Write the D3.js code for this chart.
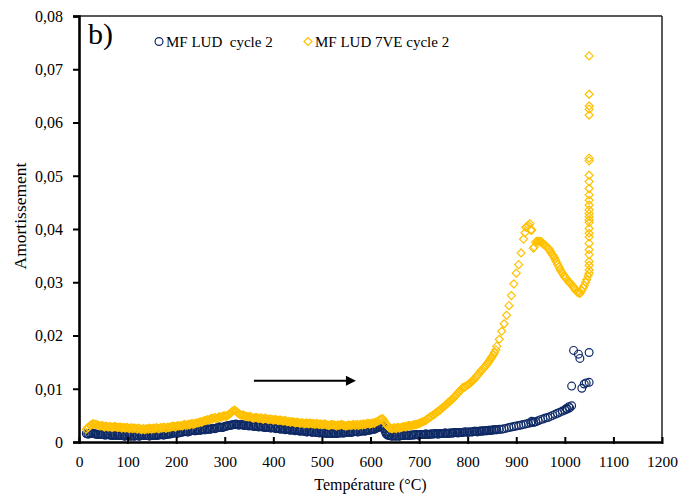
<!DOCTYPE html>
<html><head><meta charset="utf-8">
<script src="https://cdn.jsdelivr.net/npm/d3@7"></script>
<style>
html,body{margin:0;padding:0;background:#fff;}
svg{display:block;}
text{font-family:"Liberation Serif","Times New Roman",serif;fill:#000;}
</style></head>
<body>
<svg id="chart" width="679" height="499"></svg>
<script>
// ---- DATA ----
const tempGrid = [15,20,25,30,35,40,45,50,55,60,65,70,75,80,85,90,95,100,105,110,
115,120,125,130,135,140,145,150,155,160,165,170,175,180,185,190,195,200,205,210,
215,220,225,230,235,240,245,250,255,260,265,270,275,280,285,290,295,300,305,310,
315,320,325,330,335,340,345,350,355,360,365,370,375,380,385,390,395,400,405,410,
415,420,425,430,435,440,445,450,455,460,465,470,475,480,485,490,495,500,505,510,
515,520,525,530,535,540,545,550,555,560,565,570,575,580,585,590,595,600,605,610,
615,620,625,630,635,640,645,650,655,660,665,670,675,680,685,690,695,700,705,710,
715,720,725,730,735,740,745,750,755,760,765,770,775,780,785,790,795,800,805,810,
815,820,825,830,835,840,845,850,855,860,865,870,875,880,885,890,895,900,905,910,
915,920,925,930,935,940,945,950,955,960,965,970,975,980,985,990,995,1000,1005,1010,
1015,1020,1025,1030,1035,1040,1045];
// second, interleaved set of readings (dense part of the runs)
const tempGridB = [18,23,28,33,38,43,48,53,58,63,68,73,78,83,88,93,98,103,108,113,
118,123,128,133,138,143,148,153,158,163,168,173,178,183,188,193,198,203,208,213,
218,223,228,233,238,243,248,253,258,263,268,273,278,283,288,293,298,303,308,313,
318,323,328,333,338,343,348,353,358,363,368,373,378,383,388,393,398,403,408,413,
418,423,428,433,438,443,448,453,458,463,468,473,478,483,488,493,498,503,508,513,
518,523,528,533,538,543,548,553,558,563,568,573,578,583,588,593,598,603,608,613,
618,623,628,633,638,643,648,653,658,663,668,673,678,683,688,693,698,703,708,713,
718,723,728,733,738,743,748,753,758,763,768,773,778,783,788,793,798,803,808,813,
818,823,828,833,838,843,848,853,858];

// MF LUD 7VE cycle 2 (values on tempGrid)
const ve7Values = [0.0024,0.0028,0.0032,0.0034,0.0033,0.0031,0.0030,0.0029,0.0030,0.0028,
0.0029,0.0028,0.0029,0.0027,0.0028,0.0027,0.0026,0.0027,0.0026,0.0025,
0.0026,0.0024,0.0025,0.0024,0.0023,0.0025,0.0026,0.0024,0.0025,0.0027,
0.0025,0.0026,0.0028,0.0026,0.0027,0.0029,0.0030,0.0029,0.0030,0.0031,
0.0032,0.0031,0.0033,0.0034,0.0033,0.0035,0.0036,0.0038,0.0039,0.0040,
0.0042,0.0043,0.0044,0.0046,0.0045,0.0047,0.0048,0.0049,0.0050,0.0053,
0.0057,0.0060,0.0056,0.0052,0.0050,0.0049,0.0048,0.0047,0.0046,0.0045,
0.0046,0.0044,0.0045,0.0043,0.0044,0.0042,0.0043,0.0041,0.0042,0.0040,
0.0041,0.0039,0.0040,0.0038,0.0037,0.0038,0.0036,0.0037,0.0035,0.0036,
0.0034,0.0035,0.0036,0.0034,0.0033,0.0035,0.0033,0.0032,0.0034,0.0032,
0.0031,0.0033,0.0032,0.0030,0.0031,0.0033,0.0031,0.0030,0.0032,0.0031,
0.0033,0.0032,0.0031,0.0033,0.0034,0.0033,0.0035,0.0034,0.0036,0.0037,
0.0039,0.0042,0.0044,0.0036,0.0030,0.0026,0.0025,0.0026,0.0027,0.0026,
0.0028,0.0029,0.0030,0.0031,0.0031,0.0032,0.0033,0.0035,0.0037,0.0039,
0.0042,0.0045,0.0048,0.0051,0.0055,0.0058,0.0062,0.0066,0.0070,0.0074,
0.0078,0.0082,0.0087,0.0092,0.0097,0.0102,0.0104,0.0107,0.0111,0.0115,
0.0120,0.0125,0.0131,0.0136,0.0141,0.0147,0.0153,0.0160,0.0168,0.0180,
0.0193,0.0208,0.0222,0.0238,0.0256,0.0275,0.0297,0.0317,0.0333,0.0355,
0.0381,0.0403,0.0407,0.0398,0.0364,0.0375,0.0377,0.0376,0.0372,0.0369,
0.0364,0.0358,0.0351,0.0343,0.0334,0.0325,0.0317,0.0310,0.0304,0.0299,
0.0294,0.0288,0.0282,0.0279,0.0285,0.0294,0.0305];
const ve7ValuesB = [0.0027,0.0031,0.0034,0.0033,0.0032,0.0030,0.0031,0.0028,0.0029,0.0029,
0.0027,0.0029,0.0028,0.0028,0.0026,0.0027,0.0027,0.0025,0.0027,0.0026,
0.0025,0.0026,0.0023,0.0025,0.0024,0.0024,0.0025,0.0026,0.0026,0.0025,
0.0027,0.0027,0.0026,0.0028,0.0028,0.0029,0.0028,0.0031,0.0030,0.0030,
0.0033,0.0032,0.0032,0.0035,0.0034,0.0036,0.0037,0.0037,0.0040,0.0041,
0.0041,0.0045,0.0045,0.0044,0.0047,0.0046,0.0049,0.0048,0.0051,0.0055,
0.0059,0.0058,0.0054,0.0051,0.0051,0.0048,0.0047,0.0048,0.0045,0.0046,
0.0045,0.0045,0.0043,0.0045,0.0043,0.0043,0.0042,0.0042,0.0041,0.0041,
0.0040,0.0040,0.0038,0.0039,0.0038,0.0037,0.0037,0.0036,0.0036,0.0035,
0.0036,0.0034,0.0035,0.0035,0.0034,0.0033,0.0034,0.0033,0.0033,0.0031,
0.0032,0.0032,0.0031,0.0032,0.0032,0.0032,0.0030,0.0031,0.0031,0.0032,
0.0031,0.0033,0.0032,0.0032,0.0033,0.0035,0.0034,0.0035,0.0035,0.0038,
0.0041,0.0043,0.0040,0.0033,0.0027,0.0025,0.0027,0.0025,0.0027,0.0027,
0.0029,0.0028,0.0031,0.0030,0.0032,0.0033,0.0034,0.0036,0.0038,0.0040,
0.0044,0.0047,0.0050,0.0053,0.0057,0.0060,0.0064,0.0068,0.0072,0.0076,
0.0080,0.0085,0.0090,0.0095,0.0100,0.0103,0.0106,0.0109,0.0113,0.0117,
0.0123,0.0128,0.0134,0.0139,0.0144,0.0150,0.0157,0.0164,0.0173];
// extra points (peak, valley, isothermal hold at 1050 °C)
const ve7ExtraTemps = [918,922,928,932,937,942,948,952,957,962,968,972,978,982,988,992,998,1002,1008,1012,1018,1022,1027,1032,1038,1043,1048,
1050,1050,1050,1050,1050,1050,1050,1050,1050,1050,1050,1050,1050,1050,1050,1050,1050,1050,1050,1050,1050,1050,1050,1050,1050,1050,1050,1050];
const ve7ExtraValues = [0.0393,0.0405,0.0410,0.0398,0.0366,0.0377,0.0377,0.0376,0.0371,0.0367,0.0362,0.0355,0.0347,0.0339,0.0329,0.0321,0.0313,0.0308,0.0301,0.0297,0.0291,0.0285,0.0281,0.0280,0.0290,0.0300,0.0312,
0.0317,0.0323,0.0332,0.0339,0.0352,0.0361,0.0373,0.0385,0.0392,0.0401,0.0412,0.0417,0.0423,0.0429,0.0436,0.0445,0.0454,0.0464,0.0476,0.0489,0.0501,0.0528,0.0533,0.0614,0.0625,0.0631,0.0653,0.0725];

// MF LUD cycle 2 (values on tempGrid, 15..1010)
const ludValues = [0.0016,0.0015,0.0017,0.0016,0.0015,0.0014,0.0015,0.0014,0.0013,0.0014,
0.0013,0.0012,0.0013,0.0012,0.0013,0.0012,0.0011,0.0012,0.0011,0.0012,
0.0011,0.0012,0.0011,0.0012,0.0013,0.0012,0.0011,0.0012,0.0013,0.0012,
0.0013,0.0014,0.0013,0.0014,0.0015,0.0016,0.0017,0.0018,0.0017,0.0018,
0.0019,0.0020,0.0019,0.0021,0.0022,0.0021,0.0023,0.0022,0.0024,0.0023,
0.0025,0.0024,0.0026,0.0025,0.0027,0.0028,0.0027,0.0029,0.0030,0.0031,
0.0032,0.0033,0.0033,0.0032,0.0033,0.0031,0.0032,0.0030,0.0031,0.0029,
0.0030,0.0028,0.0029,0.0028,0.0027,0.0028,0.0026,0.0027,0.0025,0.0026,
0.0024,0.0025,0.0023,0.0024,0.0022,0.0023,0.0021,0.0022,0.0020,0.0021,
0.0020,0.0019,0.0020,0.0018,0.0019,0.0018,0.0017,0.0018,0.0017,0.0016,
0.0017,0.0016,0.0017,0.0016,0.0017,0.0018,0.0017,0.0018,0.0019,0.0018,
0.0019,0.0020,0.0019,0.0020,0.0021,0.0021,0.0022,0.0023,0.0024,0.0025,
0.0027,0.0029,0.0031,0.0020,0.0013,0.0012,0.0011,0.0011,0.0012,0.0011,
0.0012,0.0012,0.0013,0.0012,0.0013,0.0013,0.0014,0.0013,0.0014,0.0014,
0.0015,0.0014,0.0015,0.0015,0.0016,0.0015,0.0016,0.0016,0.0017,0.0016,
0.0017,0.0017,0.0018,0.0017,0.0018,0.0018,0.0019,0.0018,0.0019,0.0019,
0.0020,0.0019,0.0020,0.0020,0.0021,0.0021,0.0022,0.0022,0.0023,0.0023,
0.0024,0.0024,0.0025,0.0026,0.0027,0.0028,0.0029,0.0030,0.0031,0.0032,
0.0033,0.0034,0.0035,0.0036,0.0037,0.0038,0.0040,0.0042,0.0043,0.0045,
0.0046,0.0048,0.0050,0.0052,0.0054,0.0056,0.0058,0.0060,0.0062,0.0064];
const ludValuesB = [0.0015,0.0016,0.0017,0.0015,0.0014,0.0015,0.0014,0.0013,0.0014,0.0013,
0.0012,0.0013,0.0012,0.0012,0.0012,0.0011,0.0012,0.0012,0.0011,0.0011,
0.0012,0.0011,0.0012,0.0012,0.0012,0.0012,0.0012,0.0012,0.0012,0.0013,
0.0014,0.0013,0.0014,0.0015,0.0015,0.0017,0.0017,0.0017,0.0018,0.0019,
0.0020,0.0019,0.0020,0.0022,0.0021,0.0022,0.0022,0.0023,0.0023,0.0024,
0.0024,0.0025,0.0025,0.0026,0.0028,0.0027,0.0028,0.0030,0.0031,0.0032,
0.0033,0.0034,0.0032,0.0033,0.0032,0.0032,0.0031,0.0031,0.0030,0.0030,
0.0029,0.0029,0.0028,0.0027,0.0028,0.0027,0.0027,0.0026,0.0026,0.0025,
0.0025,0.0024,0.0024,0.0023,0.0023,0.0022,0.0022,0.0021,0.0021,0.0020,
0.0019,0.0020,0.0019,0.0019,0.0018,0.0018,0.0018,0.0017,0.0017,0.0017,
0.0016,0.0017,0.0016,0.0017,0.0017,0.0017,0.0018,0.0018,0.0018,0.0019,
0.0020,0.0019,0.0020,0.0021,0.0020,0.0022,0.0022,0.0024,0.0024,0.0026,
0.0028,0.0030,0.0025,0.0015,0.0012,0.0011,0.0012,0.0011,0.0011,0.0012,
0.0012,0.0013,0.0012,0.0013,0.0013,0.0014,0.0013,0.0014,0.0014,0.0015,
0.0014,0.0015,0.0015,0.0016,0.0015,0.0016,0.0016,0.0017,0.0016,0.0017,
0.0017,0.0018,0.0018,0.0018,0.0018,0.0019,0.0019,0.0019,0.0019,0.0020,
0.0020,0.0020,0.0021,0.0021,0.0021,0.0022,0.0022,0.0023,0.0023];
const ludExtraTemps = [622,627,632,637,932,936,1003,1008,1014,1014,1035,1040,1044,1050,1018,1028,1031,1050];
const ludExtraValues = [0.0030,0.0026,0.0016,0.0013,0.0039,0.0037,0.0063,0.0066,0.0068,0.0105,0.0101,0.0109,0.0111,0.0112,0.0172,0.0165,0.0157,0.0168];

const xTicks = [0,100,200,300,400,500,600,700,800,900,1000,1100,1200];
const yTicks = [0,0.01,0.02,0.03,0.04,0.05,0.06,0.07,0.08];
const yTickLabels = ["0","0,01","0,02","0,03","0,04","0,05","0,06","0,07","0,08"];
const seriesNames = ["MF LUD  cycle 2","MF LUD 7VE cycle 2"];
const xTitle = "Température (°C)";
const yTitle = "Amortissement";
const panelLabel = "b)";
const arrowFrom = 360, arrowTo = 570, arrowLevel = 0.0115;

// ---- CHART ----
const colNavy = "#0f2a66", colGold = "#ffc000";
const svg = d3.select("#chart");
const L = 79, R = 662, T = 16, B = 442;
const x = d3.scaleLinear().domain([0,1200]).range([L,R]);
const y = d3.scaleLinear().domain([0,0.08]).range([B,T]);

// frame (top/right thin)
svg.append("line").attr("x1",L).attr("x2",R).attr("y1",T).attr("y2",T).attr("stroke","#222").attr("stroke-width",1.3);
svg.append("line").attr("x1",R).attr("x2",R).attr("y1",T).attr("y2",B).attr("stroke","#222").attr("stroke-width",1.5);

const pairs = (ts, vs) => vs.map((v,i)=>[ts[i], v]);
const lud = pairs(tempGrid, ludValues).concat(pairs(tempGridB, ludValuesB), pairs(ludExtraTemps, ludExtraValues));
const ve7 = pairs(tempGrid, ve7Values).concat(pairs(tempGridB, ve7ValuesB), pairs(ve7ExtraTemps, ve7ExtraValues));

const diamond = { draw(ctx, size){ const r = Math.sqrt(size)/2; ctx.moveTo(0,-r); ctx.lineTo(r,0); ctx.lineTo(0,r); ctx.lineTo(-r,0); ctx.closePath(); } };
const diamondPath = d3.symbol().type(diamond).size(64);

svg.append("g").selectAll("circle").data(lud).join("circle")
  .attr("cx", d=>x(d[0])).attr("cy", d=>y(d[1])).attr("r", 3.9)
  .attr("fill","none").attr("stroke",colNavy).attr("stroke-width",1.2);

svg.append("g").selectAll("path").data(ve7).join("path")
  .attr("d", diamondPath)
  .attr("transform", d=>`translate(${x(d[0])},${y(d[1])})`)
  .attr("fill","none").attr("stroke",colGold).attr("stroke-width",1.2);

// axes
const gx = svg.append("g").attr("transform",`translate(0,${B})`)
  .call(d3.axisBottom(x).tickValues(xTicks).tickFormat(d3.format("d")).tickSizeOuter(0));
gx.select(".domain").attr("stroke","#000").attr("stroke-width",2.6);
gx.selectAll(".tick line").attr("y1",2).attr("y2",-5).attr("stroke","#000").attr("stroke-width",2);
gx.selectAll(".tick text").attr("y",25).attr("dy",null).style("font-size","15.5px").style("font-family","Liberation Serif");

const gy = svg.append("g").attr("transform",`translate(${L},0)`)
  .call(d3.axisLeft(y).tickValues(yTicks).tickFormat((d,i)=>yTickLabels[i]).tickSizeOuter(0).tickSize(6));
gy.select(".domain").attr("stroke","#000").attr("stroke-width",2.6);
gy.selectAll(".tick line").attr("stroke","#000").attr("stroke-width",2);
gy.selectAll(".tick text").attr("x",-16).attr("dy","0.33em").style("font-size","16px").style("font-family","Liberation Serif");

// titles
svg.append("text").attr("x",(L+R)/2).attr("y",490).attr("text-anchor","middle").style("font-size","16px").text(xTitle);
svg.append("text").attr("transform","translate(26,216) rotate(-90)").attr("text-anchor","middle").style("font-size","17.5px").text(yTitle);
svg.append("text").attr("x",88).attr("y",44).style("font-size","30px").text(panelLabel);

// legend
const lg = svg.append("g");
lg.append("circle").attr("cx",159).attr("cy",41.5).attr("r",3.9).attr("fill","none").attr("stroke",colNavy).attr("stroke-width",1.2);
lg.append("text").attr("x",166).attr("y",46.5).style("font-size","15px").style("white-space","pre").attr("xml:space","preserve").text(seriesNames[0]);
lg.append("path").attr("d",diamondPath).attr("transform","translate(308,41.5)").attr("fill","none").attr("stroke",colGold).attr("stroke-width",1.2);
lg.append("text").attr("x",315).attr("y",46.5).style("font-size","15px").text(seriesNames[1]);

// arrow
const ay = y(arrowLevel);
svg.append("line").attr("x1",x(arrowFrom)).attr("x2",x(arrowTo)-8).attr("y1",ay).attr("y2",ay).attr("stroke","#000").attr("stroke-width",2);
svg.append("path").attr("d",`M${x(arrowTo)},${ay}L${x(arrowTo)-10},${ay-5}L${x(arrowTo)-10},${ay+5}Z`).attr("fill","#000");
</script>
</body></html>
